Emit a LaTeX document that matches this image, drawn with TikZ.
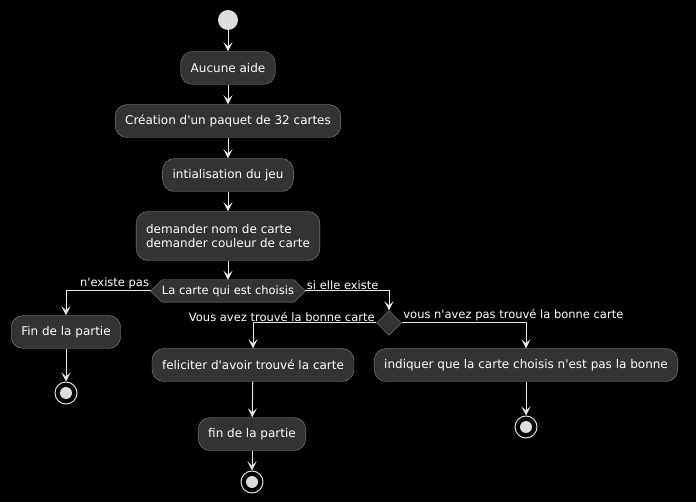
\documentclass[tikz,border=0pt]{standalone}
\usepackage{fontspec}
\setmainfont{DejaVu Sans}
\usetikzlibrary{positioning,arrows.meta,shapes.geometric}
\definecolor{umlbg}{HTML}{000000}
\definecolor{umlbox}{HTML}{333333}
\definecolor{umlline}{HTML}{8A8A8A}
\definecolor{umlarrow}{HTML}{E6E6E6}
\definecolor{umldot}{HTML}{DDDDDD}
\newcommand{\ap}{\textquotesingle}

\begin{document}
\begin{tikzpicture}[
  x=1pt, y=-1pt,
  font=\fontsize{12}{14.5}\selectfont,
  act/.style={draw=umlline, fill=umlbox, rounded corners=12pt, align=left,
              minimum height=33pt, inner xsep=10pt, text=white},
  decbox/.style={font=\fontsize{11.5}{13}\selectfont, text=white, minimum height=22pt,
                 inner xsep=11pt, inner ysep=0pt},
  diabox/.style={diamond, draw=umlline, fill=umlbox, minimum size=25pt, inner sep=0pt},
  guard/.style={font=\fontsize{11.5}{13}\selectfont, text=white, inner sep=1.5pt},
  startpt/.style={circle, fill=umldot, minimum size=20pt, inner sep=0pt},
  endpt/.style={circle, draw=umldot, fill=black, line width=1pt, minimum size=22pt, inner sep=0pt,
                path picture={\fill[umldot] (path picture bounding box.center) circle (6pt);}},
  arr/.style={-{Stealth[length=9pt,width=9pt,inset=4pt]}, umlarrow, line width=1pt}
]
\fill[umlbg] (0,0) rectangle (696,502);
\useasboundingbox (0,0) rectangle (696,502);
% ================= main spine =================
\node[startpt] (start) at (228,20) {};
\node[act] (aide)  at (228,68)  {Aucune aide};
\node[act] (paquet) at (228,121) {Création d\ap un paquet de 32 cartes};
\node[act] (init)  at (228,175) {intialisation du jeu};
\node[act, minimum height=49pt] (dem) at (228,236)
  {demander nom de carte\\demander couleur de carte};
\node[decbox] (choix) at (228,291) {La carte qui est choisis};
\draw[draw=umlline, fill=umlbox] (choix.west) -- ([xshift=11pt]choix.north west)
  -- ([xshift=-11pt]choix.north east) -- (choix.east)
  -- ([xshift=-11pt]choix.south east) -- ([xshift=11pt]choix.south west) -- cycle;
\node[decbox] at (choix) {La carte qui est choisis};
\foreach \a/\b in {start/aide, aide/paquet, paquet/init, init/dem, dem/choix}{\draw[arr] (\a) -- (\b);}
% ================= left branch: n'existe pas =================
\node[act] (fin1) at (66,332) {Fin de la partie};
\node[endpt] (stop1) at (66,393) {};
\draw[arr] (choix.west) -| (fin1);
\node[guard, anchor=south east] at (choix.west) {n\ap existe pas};
\draw[arr] (fin1) -- (stop1);
% ================= right branch: si elle existe =================
\node[diabox] (trouve) at (389,323) {};
\draw[arr] (choix.east) -| (trouve);
\node[guard, anchor=south west] at (choix.east) {si elle existe};
% ----- bonne carte -----
\node[act] (felic) at (253,365) {feliciter d\ap avoir trouvé la carte};
\node[act] (fin2)  at (252,434) {fin de la partie};
\node[endpt] (stop2) at (252,482) {};
\draw[arr] (trouve.west) -| (felic);
\node[guard, anchor=south east] at (trouve.west) {Vous avez trouvé la bonne carte};
\draw[arr] (felic) -- (fin2);
\draw[arr] (fin2) -- (stop2);
% ----- mauvaise carte -----
\node[act] (indiq) at (526,365) {indiquer que la carte choisis n\ap est pas la bonne};
\node[endpt] (stop3) at (526,427) {};
\draw[arr] (trouve.east) -| (indiq);
\node[guard, anchor=south west] at (trouve.east) {vous n\ap avez pas trouvé la bonne carte};
\draw[arr] (indiq) -- (stop3);
\end{tikzpicture}
\end{document}
